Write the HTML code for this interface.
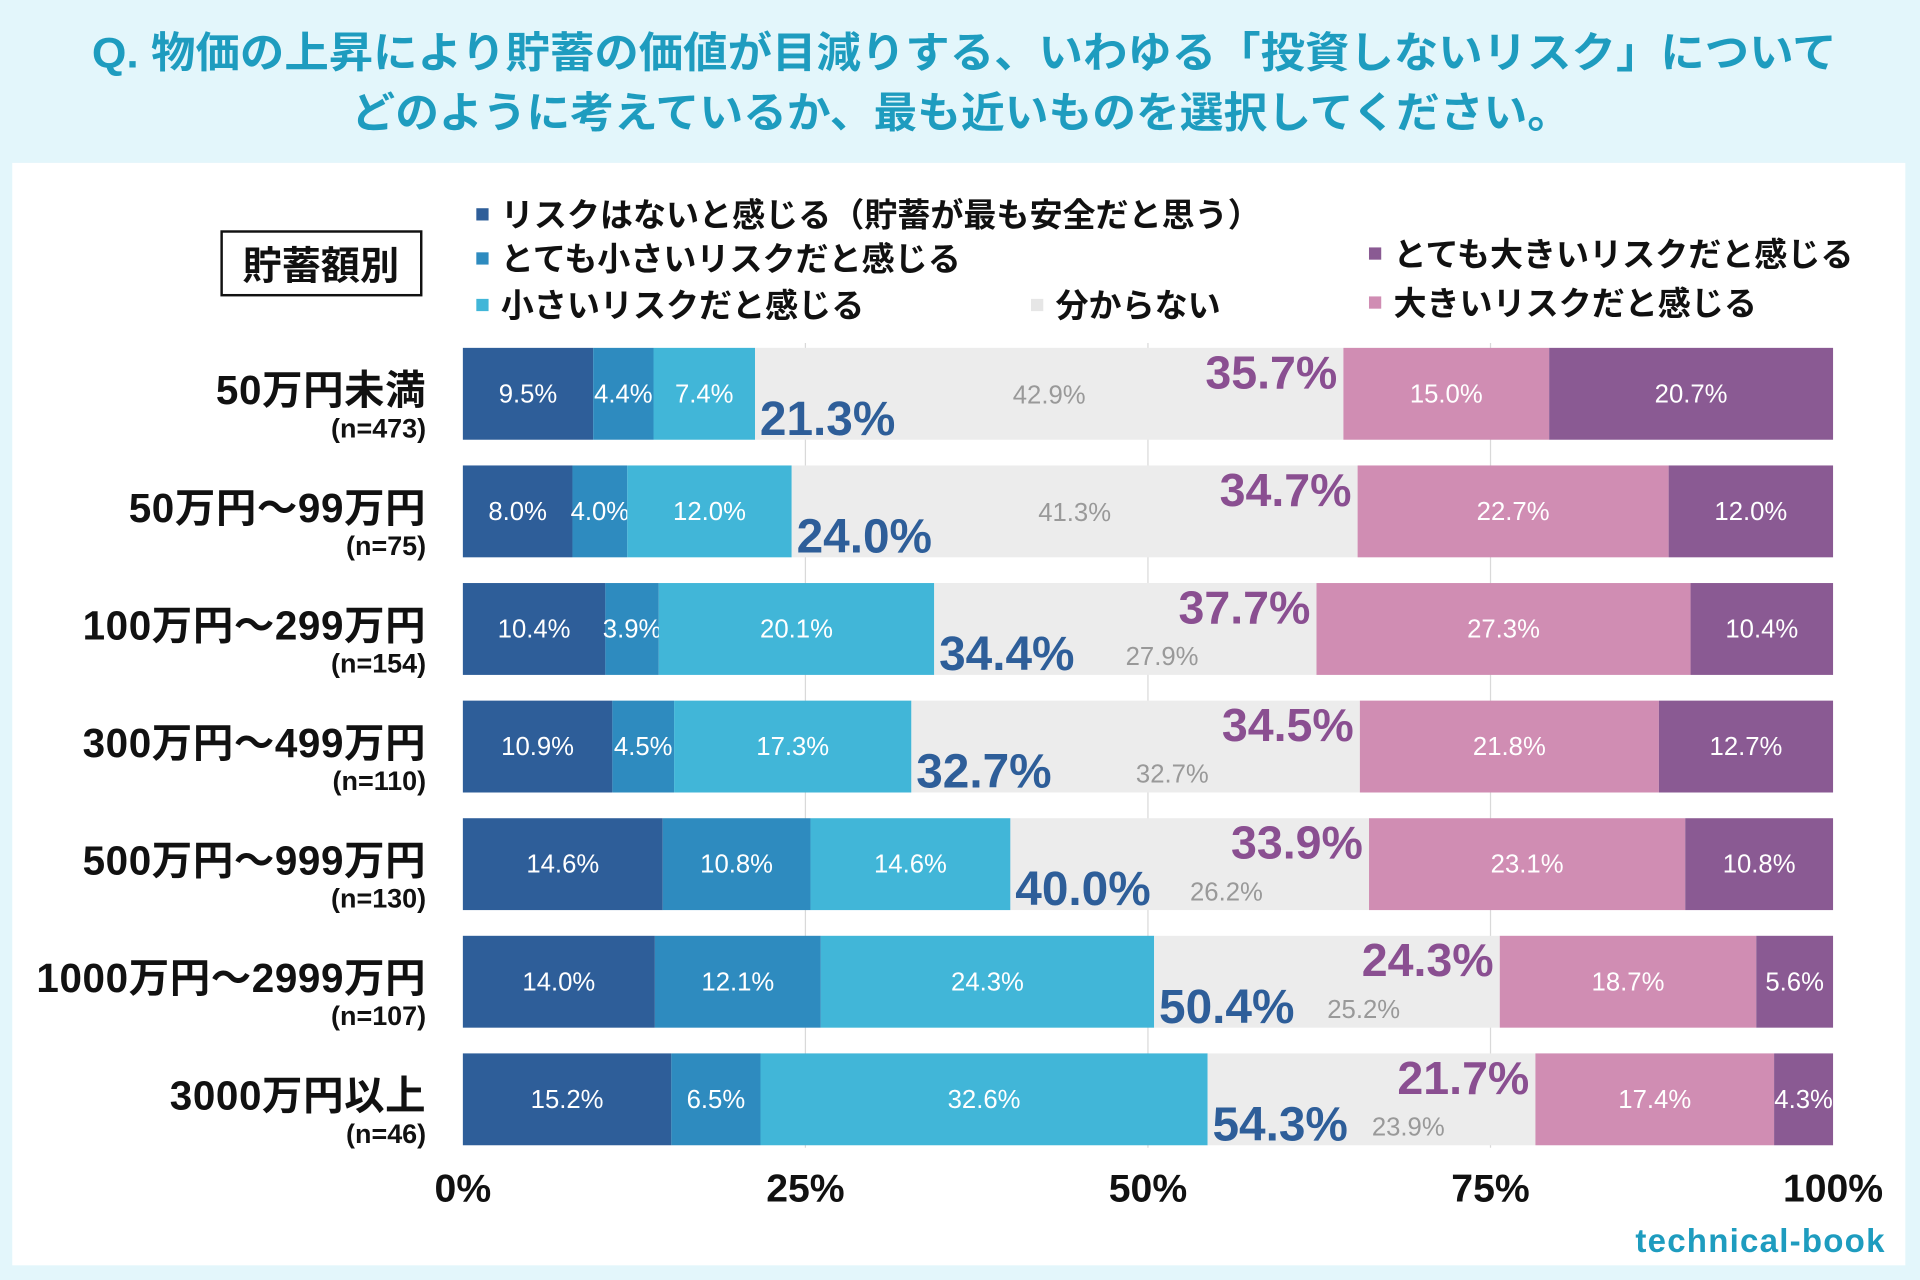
<!DOCTYPE html>
<html><head><meta charset="utf-8"><style>
html,body{margin:0;padding:0;background:#e3f6fb;}
svg{display:block;font-family:"Liberation Sans","Noto Sans CJK JP",sans-serif;}
</style></head><body>
<svg id="chart" width="1920" height="1280" viewBox="0 0 1568 1045" preserveAspectRatio="none" xmlns="http://www.w3.org/2000/svg">
<rect x="0" y="0" width="1568" height="1045" fill="#e3f6fb"/>
<text x="75" y="55" textLength="1425" lengthAdjust="spacingAndGlyphs" font-size="35" font-weight="bold" fill="#1e9cbf">Q. 物価の上昇により貯蓄の価値が目減りする、いわゆる「投資しないリスク」について</text>
<text x="287" y="104" textLength="996" lengthAdjust="spacingAndGlyphs" font-size="35" font-weight="bold" fill="#1e9cbf">どのように考えているか、最も近いものを選択してください。</text>
<rect x="10" y="133" width="1546" height="900" fill="#ffffff"/>
<rect x="181" y="189" width="163" height="52" fill="none" stroke="#111" stroke-width="2"/>
<text x="262" y="228" text-anchor="middle" font-size="32" font-weight="bold" fill="#111">貯蓄額別</text>
<g id="legend"></g>
<g id="grid"></g>
<g id="bars"></g>
<g id="axis"></g>
<text x="1540" y="1022" text-anchor="end" font-size="27" font-weight="bold" fill="#1e9cbf" letter-spacing="1">technical-book</text>
</svg>
<script>
const categories=["50万円未満","50万円～99万円","100万円～299万円","300万円～499万円","500万円～999万円","1000万円～2999万円","3000万円以上"];
const counts=["(n=473)","(n=75)","(n=154)","(n=110)","(n=130)","(n=107)","(n=46)"];
const noRisk=[9.5,8.0,10.4,10.9,14.6,14.0,15.2];
const verySmall=[4.4,4.0,3.9,4.5,10.8,12.1,6.5];
const small=[7.4,12.0,20.1,17.3,14.6,24.3,32.6];
const unknown=[42.9,41.3,27.9,32.7,26.2,25.2,23.9];
const big=[15.0,22.7,27.3,21.8,23.1,18.7,17.4];
const veryBig=[20.7,12.0,10.4,12.7,10.8,5.6,4.3];
const ticks=[0,25,50,75,100];
const seriesNames=["リスクはないと感じる（貯蓄が最も安全だと思う）","とても小さいリスクだと感じる","小さいリスクだと感じる","分からない","大きいリスクだと感じる","とても大きいリスクだと感じる"];

const NS="http://www.w3.org/2000/svg";
const X0=378,X1=1497,TOP0=284,STEP=96,BH=75;
const colors=["#2e5e99","#2e8bbf","#41b6d8","#ececec","#d08db3","#8a5a93"];
const xs=v=>X0+(X1-X0)*v/100;
function mk(tag,attrs,parent,text){const e=document.createElementNS(NS,tag);for(const k in attrs)e.setAttribute(k,attrs[k]);if(text!==undefined)e.textContent=text;parent.appendChild(e);return e;}

const lg=document.getElementById('legend');
const legPos=[[395,176],[395,212],[395,250],[848,250],[1124,248],[1124,208]];
seriesNames.forEach((n,i)=>{
  const r=mk('rect',{x:legPos[i][0]-6,y:legPos[i][1]-6,width:10,height:10,fill:i==3?'#e6e6e6':colors[i]},lg);
  
  
  const t=mk('text',{x:legPos[i][0]+14,y:legPos[i][1]+9,'font-size':27,'font-weight':'bold',fill:'#111'},lg,n);
  
  
});

const gg=document.getElementById('grid');
ticks.forEach(t=>{
  if(t>0&&t<100){const l=mk('line',{x1:xs(t),x2:xs(t),y1:TOP0-4,y2:TOP0+6*STEP+BH+2,stroke:'#d9d9d9','stroke-width':1},gg);
  
  }
});
const ax=document.getElementById('axis');
ticks.forEach(t=>{
  const tx=mk('text',{x:xs(t),y:981,'text-anchor':'middle','font-size':32,'font-weight':'bold',fill:'#111'},ax,t+'%');
  
  
});

const bg=document.getElementById('bars');
const series=[noRisk,verySmall,small,unknown,big,veryBig];
categories.forEach((c,i)=>{
  const y=TOP0+i*STEP;
  const vals=series.map(s=>s[i]);
  const total=vals.reduce((a,b)=>a+b,0);
  const lab=mk('text',{x:348,y:y+46,'text-anchor':'end','font-size':33,'font-weight':'bold',fill:'#111','letter-spacing':0.5},bg,c);
  
  
  const nl=mk('text',{x:348,y:y+73,'text-anchor':'end','font-size':22,'font-weight':'bold',fill:'#111'},bg,counts[i]);
  
  
  let acc=0;const starts=[];
  vals.forEach((v,j)=>{
    const a=xs(acc/total*100),b=xs((acc+v)/total*100);starts.push([a,b]);
    const r=mk('rect',{x:a,y:y,width:b-a,height:BH,fill:colors[j]},bg);
    
    
    if(j!==3){
      const t=mk('text',{x:(a+b)/2,y:y+BH/2+7,'text-anchor':'middle','font-size':21,fill:'#fff'},bg,v.toFixed(1)+'%');
      
      
    }
    acc+=v;
  });
  const [ga,gb]=starts[3];
  const wide=(gb-ga)>400;
  const gt=mk('text',{x:(ga+gb)/2+(wide?0:30),y:wide?y+BH/2+8:y+BH-8,'text-anchor':'middle','font-size':21,fill:'#999'},bg,unknown[i].toFixed(1)+'%');
  
  
  const lowSum=noRisk[i]+verySmall[i]+small[i];
  const hiSum=big[i]+veryBig[i];
  const lt=mk('text',{x:ga+4,y:y+BH-4,'font-size':39,'font-weight':'bold',fill:'#2e5e99'},bg,lowSum.toFixed(1)+'%');
  
  
  const ht=mk('text',{x:gb-5,y:y+33,'text-anchor':'end','font-size':38,'font-weight':'bold',fill:'#8a4f91'},bg,hiSum.toFixed(1)+'%');
  
  
});
</script>
</body></html>
